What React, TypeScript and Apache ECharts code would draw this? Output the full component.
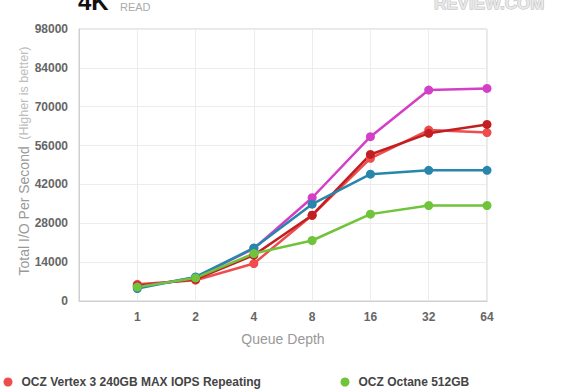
import React, { useEffect, useRef } from "react";
import * as echarts from "echarts";

const categories = ["1", "2", "4", "8", "16", "32", "64"];
const yTicks = [0, 14000, 28000, 42000, 56000, 70000, 84000, 98000];

const vertexRepeating = [6000, 7500, 13500, 30900, 51400, 61600, 60700];
const vertexMax = [5500, 7800, 16500, 30900, 52800, 60400, 63600];
const vertex4 = [5000, 8500, 18900, 37200, 59200, 76000, 76600];
const intel520 = [4500, 8650, 19100, 34900, 45700, 47100, 47100];
const octane = [5000, 8300, 17100, 21800, 31300, 34400, 34400];

const seriesDefs = [
  { name: "OCZ Vertex 3 240GB MAX IOPS Repeating", data: vertexRepeating, color: "#ee4d4d" },
  { name: "OCZ Vertex 3 240GB MAX IOPS", data: vertexMax, color: "#c21f22" },
  { name: "OCZ Vertex 4 256GB", data: vertex4, color: "#d33fc6" },
  { name: "Intel 520 240GB", data: intel520, color: "#2886ad" },
  { name: "OCZ Octane 512GB", data: octane, color: "#70c43a" },
];

export default function App() {
  const ref = useRef<HTMLDivElement>(null);
  useEffect(() => {
    if (!ref.current) return;
    const chart = echarts.init(ref.current, undefined, { renderer: "svg" });
    const font = "'Liberation Sans', Arial, Helvetica, sans-serif";
    chart.setOption({
      animation: false,
      textStyle: { fontFamily: font },
      grid: {
        left: 79,
        top: 29,
        width: 408,
        height: 272,
        show: true,
        borderColor: "#cfcfcf",
        borderWidth: 1,
      },
      xAxis: {
        type: "value",
        min: 0,
        max: categories.length,
        interval: 1,
        axisLine: { show: true, lineStyle: { color: "#cfcfcf" } },
        axisTick: { show: false },
        splitLine: { show: true, lineStyle: { color: "#ececec" } },
        axisLabel: {
          margin: 10,
          fontSize: 12,
          fontWeight: "bold",
          color: "#666",
          fontFamily: font,
          formatter: (v: number) => (v >= 1 ? categories[v - 1] : ""),
        },
        name: "Queue Depth",
        nameLocation: "middle",
        nameGap: 31,
        nameTextStyle: { fontSize: 14, color: "#999", fontFamily: font },
      },
      yAxis: {
        type: "value",
        min: yTicks[0],
        max: yTicks[yTicks.length - 1],
        interval: 14000,
        axisLine: { show: true, lineStyle: { color: "#cfcfcf" } },
        axisTick: { show: false },
        splitLine: { show: true, lineStyle: { color: "#ececec" } },
        axisLabel: {
          margin: 11,
          fontSize: 12,
          fontWeight: "bold",
          color: "#666",
          fontFamily: font,
          formatter: (v: number) => String(v),
        },
      },
      legend: [
        {
          data: [seriesDefs[0].name],
          left: 3.5,
          top: 376,
          padding: 0,
          icon: "circle",
          itemWidth: 17,
          itemHeight: 9,
          textStyle: { fontSize: 12, fontWeight: "bold", color: "#444", fontFamily: font },
        },
        {
          data: [seriesDefs[4].name],
          left: 340.5,
          top: 376,
          padding: 0,
          icon: "circle",
          itemWidth: 17,
          itemHeight: 9,
          textStyle: { fontSize: 12, fontWeight: "bold", color: "#444", fontFamily: font },
        },
      ],
      graphic: [
        {
          type: "text",
          x: 78,
          y: 1.5,
          style: {
            text: "4K",
            font: `bold 24px ${font}`,
            fill: "#111",
            verticalAlign: "middle",
          },
        },
        {
          type: "text",
          x: 120,
          y: 6.5,
          style: {
            text: "READ",
            font: `11px ${font}`,
            fill: "#aaa",
            verticalAlign: "middle",
          },
        },
        {
          type: "text",
          x: 434,
          y: 3.5,
          style: {
            text: "REVIEW.COM",
            font: `bold 17px ${font}`,
            fill: "#e8e8e8",
            stroke: "#b8b8b8",
            lineWidth: 1,
            verticalAlign: "middle",
          },
        },
        {
          type: "text",
          x: 24,
          y: 161,
          rotation: Math.PI / 2,
          style: {
            text: "{a|Total I/O Per Second}  {b|(Higher is better)}",
            align: "center",
            verticalAlign: "middle",
            rich: {
              a: { fontSize: 14, fill: "#999", fontFamily: font },
              b: { fontSize: 12.5, fill: "#bdbdbd", fontFamily: font },
            },
          },
        },
      ],
      series: seriesDefs.map((s) => ({
        name: s.name,
        type: "line",
        data: s.data.map((v, i) => [i + 1, v]),
        symbol: "circle",
        symbolSize: 9,
        showSymbol: true,
        itemStyle: { color: s.color },
        lineStyle: { color: s.color, width: 2.5 },
      })),
    });
    return () => chart.dispose();
  }, []);
  return (
    <div
      ref={ref}
      style={{ position: "absolute", left: 0, top: 0, width: 585, height: 390 }}
    />
  );
}
